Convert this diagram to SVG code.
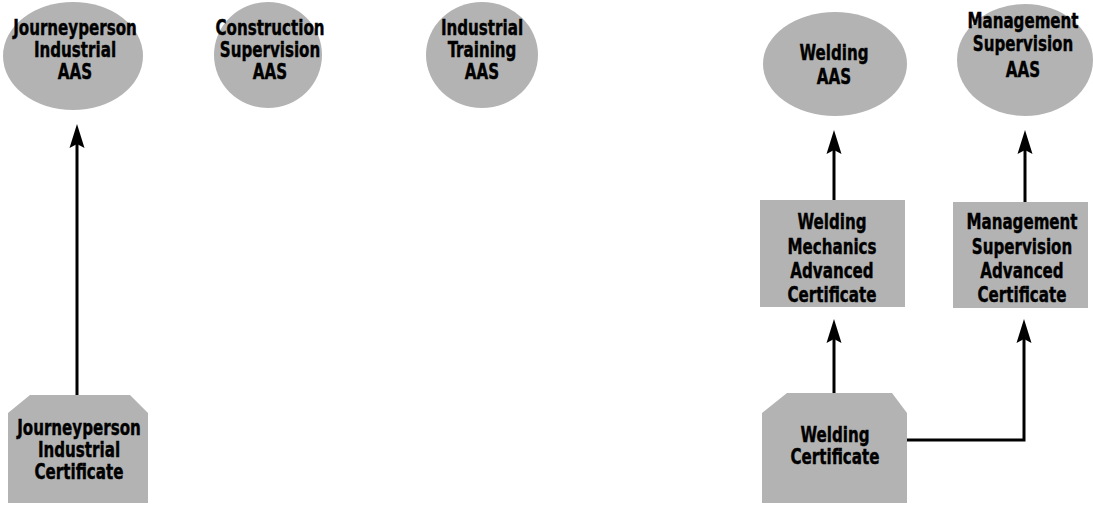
<svg xmlns="http://www.w3.org/2000/svg" width="1093" height="505" viewBox="0 0 1093 505">
<style>
.n{fill:#b3b3b3;stroke:none}
.t{font-family:"Liberation Sans Narrow","DejaVu Sans Condensed","Liberation Sans",sans-serif;font-weight:bold;font-size:21px;fill:#000;stroke:#000;stroke-width:0.4;text-anchor:middle}
.c{fill:none;stroke:#000;stroke-width:3}
</style>
<defs>
<marker id="ah" markerUnits="userSpaceOnUse" markerWidth="28" markerHeight="20" viewBox="-16 -10 28 20" refX="0" refY="0" orient="auto">
<path d="M10,0 L-14,-7.5 L-10,0 L-14,7.5 Z" fill="#000"/>
</marker>
</defs>
<g id="connectors">
<path class="c" d="M77,395 L77,134" marker-end="url(#ah)"/>
<path class="c" d="M834,393 L834,329" marker-end="url(#ah)"/>
<path class="c" d="M834,200 L834,140" marker-end="url(#ah)"/>
<path class="c" d="M907,440 L1024,440 L1024,329" marker-end="url(#ah)"/>
<path class="c" d="M1025,202 L1025,140" marker-end="url(#ah)"/>
</g>
<g id="journeyperson-aas">
<ellipse class="n" cx="73" cy="56" rx="70" ry="54"/>
<g transform="translate(75 0) scale(0.8 1)">
<text class="t" x="0" y="35">Journeyperson</text>
<text class="t" x="0" y="57">Industrial</text>
<text class="t" x="0" y="79">AAS</text>
</g>
</g>
<g id="construction-aas">
<ellipse class="n" cx="268" cy="55" rx="54" ry="53"/>
<g transform="translate(270 0) scale(0.8 1)">
<text class="t" x="0" y="35">Construction</text>
<text class="t" x="0" y="57">Supervision</text>
<text class="t" x="0" y="79">AAS</text>
</g>
</g>
<g id="industrial-training-aas">
<ellipse class="n" cx="482" cy="55" rx="56" ry="53"/>
<g transform="translate(482 0) scale(0.8 1)">
<text class="t" x="0" y="35">Industrial</text>
<text class="t" x="0" y="57">Training</text>
<text class="t" x="0" y="79">AAS</text>
</g>
</g>
<g id="welding-aas">
<ellipse class="n" cx="835" cy="64" rx="72" ry="52"/>
<g transform="translate(834 0) scale(0.8 1)">
<text class="t" x="0" y="60">Welding</text>
<text class="t" x="0" y="84">AAS</text>
</g>
</g>
<g id="management-aas">
<ellipse class="n" cx="1025" cy="60" rx="68" ry="56"/>
<g transform="translate(1023 0) scale(0.8 1)">
<text class="t" x="0" y="28">Management</text>
<text class="t" x="0" y="51">Supervision</text>
<text class="t" x="0" y="77">AAS</text>
</g>
</g>
<g id="welding-mechanics-cert">
<rect class="n" x="760" y="200" width="145" height="107"/>
<g transform="translate(832 0) scale(0.8 1)">
<text class="t" x="0" y="229">Welding</text>
<text class="t" x="0" y="254">Mechanics</text>
<text class="t" x="0" y="278">Advanced</text>
<text class="t" x="0" y="302">Certificate</text>
</g>
</g>
<g id="management-cert">
<rect class="n" x="953" y="202" width="135" height="106"/>
<g transform="translate(1022 0) scale(0.8 1)">
<text class="t" x="0" y="229">Management</text>
<text class="t" x="0" y="254">Supervision</text>
<text class="t" x="0" y="278">Advanced</text>
<text class="t" x="0" y="302">Certificate</text>
</g>
</g>
<g id="journeyperson-cert">
<path class="n" d="M30,395 L130,395 L148,413 L148,503 L8,503 L8,413 Z"/>
<g transform="translate(79 0) scale(0.8 1)">
<text class="t" x="0" y="435">Journeyperson</text>
<text class="t" x="0" y="457">Industrial</text>
<text class="t" x="0" y="479">Certificate</text>
</g>
</g>
<g id="welding-cert">
<path class="n" d="M787,393 L892,393 L907,413 L907,503 L762,503 L762,413 Z"/>
<g transform="translate(835 0) scale(0.8 1)">
<text class="t" x="0" y="442">Welding</text>
<text class="t" x="0" y="464">Certificate</text>
</g>
</g>
</svg>
